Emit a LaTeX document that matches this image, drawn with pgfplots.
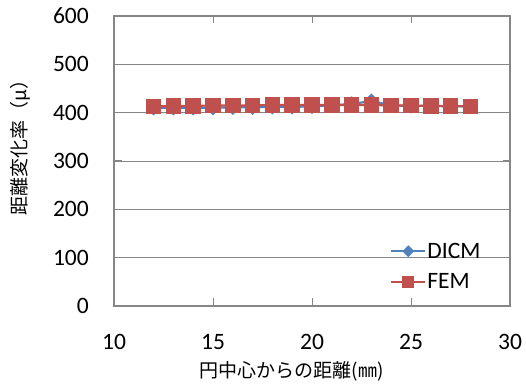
\documentclass[border=0pt]{standalone}
\usepackage{fontspec}
\setmainfont{Carlito}
\newfontfamily\jp{Noto Sans CJK JP}
\usepackage{pgfplots}
\pgfplotsset{compat=1.18}
\definecolor{dicm}{RGB}{79,129,189}
\definecolor{fem}{RGB}{192,80,77}
\definecolor{axgray}{RGB}{134,134,134}
\begin{document}
\begin{tikzpicture}
\useasboundingbox (0,0) rectangle (526pt,387pt);
\begin{axis}[
  at={(114pt,81pt)}, anchor=south west,
  scale only axis, width=396pt, height=290pt,
  xmin=10, xmax=30, ymin=0, ymax=600,
  xtick={10,15,20,25,30}, ytick={0,100,...,600},
  tick align=inside, major tick length=7.5pt,
  tick style={axgray, line width=1pt},
  axis line style={axgray, line width=1.5pt},
  ymajorgrids, grid style={axgray, line width=0.9pt},
  /pgf/number format/assume math mode=true,
  tick label style={font=\fontsize{23.5}{27}\selectfont, inner sep=0pt},
  yticklabel style={anchor=east, xshift=-25pt},
  xticklabel style={anchor=north, yshift=-28pt},
  xlabel={\jp 円中心からの距離(㎜)},
  xlabel style={font=\fontsize{19}{23}\selectfont, at={(axis description cs:0.449,0)}, anchor=base, yshift=-71pt},
  ylabel={\jp 距離変化率（μ）},
  ylabel style={font=\fontsize{19}{23}\selectfont, at={(axis description cs:-0.222,0.563)}, anchor=base, rotate=0},
  legend style={at={(rel axis cs:0.697,0.222)}, anchor=north west, draw=none, fill=none,
    font=\fontsize{23.5}{27}\selectfont, inner sep=0pt, row sep=12pt,
    nodes={inner sep=1pt, anchor=west}},
  legend cell align=left,
  legend image code/.code={
    \draw[mark repeat=2, mark phase=2, every mark/.append style={scale=0.72}] plot coordinates {(0pt,0pt) (17pt,0pt) (34pt,0pt)};
  },
]
\addplot[dicm, line width=2.2pt, mark=square*, mark size=4.3pt, mark options={rotate=45, solid, fill=dicm}]
coordinates {
(12,410) (13,410) (14,410) (15,410) (16,411) (17,411) (18,412) (19,412) (20,413)
(21,415) (22,418) (23,424) (24,415) (25,414) (26,414) (27,413) (28,413)
};
\addlegendentry{DICM}
\addplot[fem, line width=2.2pt, mark=square*, mark size=6.7pt, mark options={solid, fill=fem}]
coordinates {
(12,413) (13,414) (14,414) (15,415) (16,415) (17,415) (18,416) (19,416) (20,416)
(21,416) (22,416) (23,416) (24,415) (25,415) (26,414) (27,414) (28,413)
};
\addlegendentry{FEM}
\end{axis}
\end{tikzpicture}
\end{document}
